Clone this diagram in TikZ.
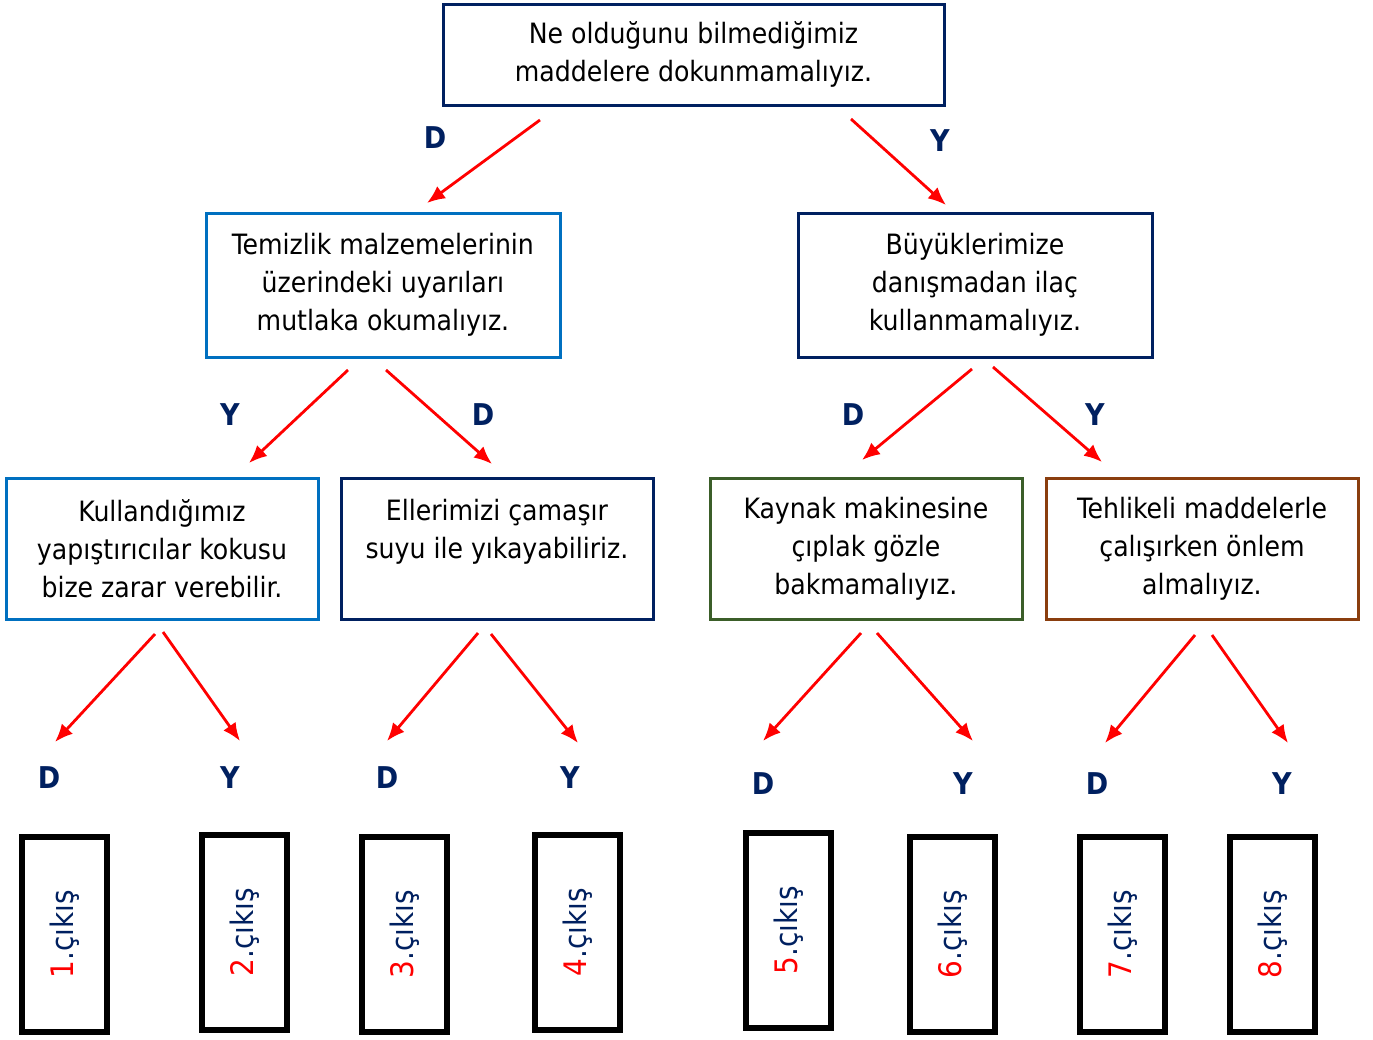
\documentclass[tikz,border=0pt]{standalone}
\usepackage{fontspec}
\setmainfont{DejaVu Sans Condensed}
\usetikzlibrary{arrows.meta}
\definecolor{navy}{HTML}{002060}
\definecolor{blu}{HTML}{0070C0}
\definecolor{grn}{HTML}{3B5E29}
\definecolor{brn}{HTML}{8A3E0E}
\definecolor{rd}{HTML}{FF0000}
\tikzset{
  box/.style={draw, line width=3pt, inner sep=0pt, align=center,
    font=\fontsize{28}{38}\selectfont, text=black},
  outbox/.style={draw=black, line width=5.5pt, inner sep=0pt,
    minimum width=85, minimum height=195},
  arr/.style={draw=rd, line width=2.8pt, -{Latex[length=18pt,width=15pt]}},
  lab/.style={text=navy, font=\fontsize{30}{30}\selectfont\bfseries, inner sep=0pt},
  outtxt/.style={rotate=90, font=\fontsize{31}{31}\selectfont, text=navy, inner sep=0pt}
}
\begin{document}
\begin{tikzpicture}[x=1pt,y=-1pt]
\useasboundingbox[fill=white] (0,0) rectangle (1373,1039);

% boxes
\node[box, draw=navy, minimum width=501, minimum height=101] (top) at (693.5,54.5)
  {Ne olduğunu bilmediğimiz\\maddelere dokunmamalıyız.};
\node[box, draw=blu, minimum width=354, minimum height=144] (b1) at (383,285)
  {Temizlik malzemelerinin\\üzerindeki uyarıları\\mutlaka okumalıyız.};
\node[box, draw=navy, minimum width=354, minimum height=144] (b2) at (975,285)
  {Büyüklerimize\\danışmadan ilaç\\kullanmamalıyız.};
\node[box, draw=blu, minimum width=312, minimum height=141] (c1) at (162,548.5)
  {Kullandığımız\\yapıştırıcılar kokusu\\bize zarar verebilir.};
\node[box, draw=navy, minimum width=312, minimum height=141] (c2) at (497,548.5)
  {Ellerimizi çamaşır\\suyu ile yıkayabiliriz.\\\phantom{bize zarar verebilir.}};
\node[box, draw=grn, minimum width=312, minimum height=141] (c3) at (866,548.5)
  {Kaynak makinesine\\çıplak gözle\\bakmamalıyız.};
\node[box, draw=brn, minimum width=312, minimum height=141] (c4) at (1202,548.5)
  {Tehlikeli maddelerle\\çalışırken önlem\\almalıyız.};

% outputs
\node[outbox] (o1) at (64.5,934.5) {};
\node[outbox] (o2) at (244.5,932.5) {};
\node[outbox] (o3) at (404.5,934.5) {};
\node[outbox] (o4) at (577.5,932.5) {};
\node[outbox] (o5) at (788.5,930.5) {};
\node[outbox] (o6) at (952.5,934.5) {};
\node[outbox] (o7) at (1122.5,934.5) {};
\node[outbox] (o8) at (1272.5,934.5) {};
\node[outtxt] (t1) at (o1.center) {\textcolor{rd}{1}.çıkış};
\node[outtxt] (t2) at (o2.center) {\textcolor{rd}{2}.çıkış};
\node[outtxt] (t3) at (o3.center) {\textcolor{rd}{3}.çıkış};
\node[outtxt] (t4) at (o4.center) {\textcolor{rd}{4}.çıkış};
\node[outtxt] (t5) at (o5.center) {\textcolor{rd}{5}.çıkış};
\node[outtxt] (t6) at (o6.center) {\textcolor{rd}{6}.çıkış};
\node[outtxt] (t7) at (o7.center) {\textcolor{rd}{7}.çıkış};
\node[outtxt] (t8) at (o8.center) {\textcolor{rd}{8}.çıkış};

% arrow end points
\coordinate (s1) at (540,120);  \coordinate (e1) at (427,203);
\coordinate (s2) at (851,119);  \coordinate (e2) at (946,205);
\coordinate (s3) at (348,370);  \coordinate (e3) at (249,463);
\coordinate (s4) at (386,370);  \coordinate (e4) at (492,464);
\coordinate (s5) at (972,369);  \coordinate (e5) at (862,460);
\coordinate (s6) at (993,367);  \coordinate (e6) at (1102,462);
\coordinate (s7) at (155,634);  \coordinate (e7) at (55,742);
\coordinate (s8) at (163,632);  \coordinate (e8) at (240,741);
\coordinate (s9) at (478,633);  \coordinate (e9) at (387,741);
\coordinate (s10) at (491,634); \coordinate (e10) at (578,743);
\coordinate (s11) at (861,633); \coordinate (e11) at (763,741);
\coordinate (s12) at (877,633); \coordinate (e12) at (973,741);
\coordinate (s13) at (1195,635); \coordinate (e13) at (1105,743);
\coordinate (s14) at (1212,635); \coordinate (e14) at (1288,743);
\foreach \i in {1,...,14} { \draw[arr] (s\i) -- (e\i); }

% labels
\node[lab] (l1) at (435,138) {D};
\node[lab] (l2) at (940,141) {Y};
\node[lab] (l3) at (230,415) {Y};
\node[lab] (l4) at (483,415) {D};
\node[lab] (l5) at (853,415) {D};
\node[lab] (l6) at (1095,415) {Y};
\node[lab] (l7) at (49,778) {D};
\node[lab] (l8) at (230,778) {Y};
\node[lab] (l9) at (387,778) {D};
\node[lab] (l10) at (570,778) {Y};
\node[lab] (l11) at (763,784) {D};
\node[lab] (l12) at (963,784) {Y};
\node[lab] (l13) at (1097,784) {D};
\node[lab] (l14) at (1282,784) {Y};
\end{tikzpicture}
\end{document}
